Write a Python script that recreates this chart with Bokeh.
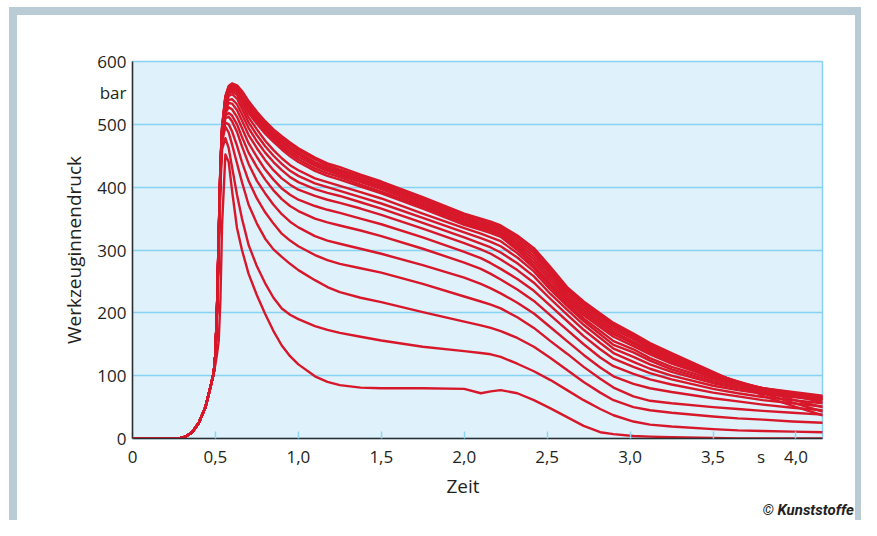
from bokeh.plotting import figure
from bokeh.models import Range1d, FixedTicker, Title
from bokeh.embed import file_html
from bokeh.resources import INLINE

# ---------------- data ----------------
X_END = 4.16
Y_END = 600
X_TICKS = [0, 0.5, 1.0, 1.5, 2.0, 2.5, 3.0, 3.5, 4.0]
X_TICK_LABELS = ["0", "0,5", "1,0", "1,5", "2,0", "2,5", "3,0", "3,5", "4,0"]
X_UNIT_POS = 3.79
X_UNIT = "s"
Y_TICKS = [0, 100, 200, 300, 400, 500, 600]
Y_TICK_LABELS = ["0", "100", "200", "300", "400", "500", "600"]
Y_UNIT_POS = 551
Y_UNIT = "bar"
X_TITLE = "Zeit"
Y_TITLE = "Werkzeuginnendruck"
CREDIT = "\u00a9  Kunststoffe"

# common filling phase (s, bar)
T_RISE = [0.0, 0.28, 0.32, 0.36, 0.40, 0.44, 0.47, 0.49]
P_RISE = [0, 0, 3, 10, 25, 50, 82, 105]

# time base for the individual curves (s)
T_MAIN = [0.50, 0.51, 0.52, 0.53, 0.54, 0.56, 0.58, 0.60, 0.63, 0.66, 0.70, 0.75,
          0.80, 0.85, 0.90, 0.95, 1.00, 1.10, 1.175, 1.25, 1.375, 1.50, 1.75, 2.00,
          2.10, 2.16, 2.22, 2.32, 2.42, 2.52, 2.62, 2.72, 2.82, 2.90, 3.02, 3.12,
          3.25, 3.50, 3.65, 3.80, 3.98, 4.16]

# cavity pressure curves (bar)
C01 = [118, 135, 156, 220, 340, 452, 440, 395, 335, 300, 262, 228, 198, 171, 148, 131, 118, 99, 90, 85, 81, 80, 80, 79, 72, 75, 77, 72, 61, 48, 34, 20, 10, 7, 4, 3, 2, 1, 0, 0, 0, 0]
C02 = [135, 200, 300, 400, 460, 478, 462, 432, 388, 350, 308, 274, 247, 224, 207, 197, 190, 179, 173, 168, 162, 156, 146, 139, 136, 134, 130, 119, 107, 93, 77, 61, 47, 37, 27, 22, 19, 15, 13, 12, 11, 10]
C03 = [135, 205, 310, 415, 472, 496, 487, 468, 438, 408, 372, 342, 318, 301, 289, 278, 268, 252, 241, 233, 224, 217, 201, 186, 180, 176, 171, 160, 146, 128, 109, 90, 73, 61, 50, 45, 41, 35, 32, 30, 27, 25]
C04 = [135, 205, 312, 418, 476, 503, 500, 489, 466, 440, 410, 382, 360, 342, 326, 315, 306, 292, 284, 278, 271, 264, 246, 226, 218, 213, 207, 193, 176, 155, 135, 114, 95, 81, 67, 60, 56, 50, 47, 44, 41, 38]
C05 = [135, 208, 315, 420, 478, 510, 512, 505, 488, 465, 437, 410, 390, 372, 357, 345, 336, 322, 315, 310, 302, 294, 276, 256, 246, 239, 231, 216, 199, 177, 155, 133, 113, 99, 87, 80, 74, 64, 59, 54, 49, 45]
C06 = [135, 208, 316, 422, 480, 514, 518, 514, 500, 480, 455, 432, 412, 395, 381, 370, 362, 350, 344, 339, 331, 322, 302, 280, 270, 262, 253, 237, 219, 196, 173, 150, 129, 115, 103, 94, 86, 73, 67, 61, 56, 51]
C07 = [135, 210, 318, 424, 482, 518, 527, 524, 512, 494, 470, 448, 428, 412, 398, 388, 380, 370, 364, 359, 350, 341, 320, 297, 287, 279, 270, 254, 235, 211, 187, 163, 142, 127, 114, 104, 94, 79, 72, 66, 61, 56]
C08 = [135, 210, 318, 425, 484, 522, 534, 533, 523, 506, 483, 462, 443, 427, 414, 404, 396, 386, 380, 375, 366, 356, 334, 311, 301, 294, 285, 268, 248, 222, 197, 173, 152, 136, 122, 111, 100, 84, 77, 71, 66, 61]
C09 = [135, 210, 320, 426, 486, 526, 539, 540, 532, 516, 494, 473, 455, 440, 427, 416, 408, 397, 391, 386, 376, 366, 343, 320, 310, 304, 296, 279, 258, 230, 205, 181, 160, 143, 130, 118, 106, 88, 80, 74, 68, 63]
C10 = [135, 210, 320, 428, 488, 530, 545, 548, 541, 525, 503, 483, 465, 450, 437, 426, 418, 406, 400, 394, 384, 374, 351, 328, 319, 313, 306, 288, 266, 237, 211, 187, 166, 149, 137, 124, 110, 91, 83, 77, 71, 65]
C11 = [135, 212, 322, 430, 490, 534, 549, 552, 547, 532, 511, 492, 474, 459, 446, 435, 427, 414, 408, 402, 392, 382, 358, 335, 326, 320, 314, 295, 271, 242, 215, 191, 171, 155, 142, 128, 114, 94, 86, 79, 73, 67]
C12 = [135, 212, 322, 430, 490, 536, 551, 555, 551, 538, 518, 501, 485, 472, 460, 449, 440, 426, 418, 412, 401, 390, 366, 340, 332, 327, 321, 300, 275, 246, 219, 196, 177, 162, 147, 134, 119, 97, 88, 80, 74, 68]
C13 = [135, 212, 324, 432, 492, 538, 553, 557, 554, 541, 522, 505, 489, 476, 464, 453, 444, 430, 422, 416, 404, 393, 369, 343, 335, 330, 324, 304, 280, 251, 223, 200, 181, 166, 151, 137, 122, 99, 89, 80, 73, 66]
C14 = [135, 212, 324, 432, 492, 540, 555, 559, 556, 544, 525, 508, 492, 479, 467, 457, 448, 434, 426, 419, 408, 397, 372, 346, 338, 333, 327, 308, 285, 256, 227, 204, 185, 170, 154, 140, 125, 101, 90, 80, 71, 63]
C15 = [135, 214, 326, 434, 494, 542, 557, 561, 558, 547, 528, 511, 495, 482, 471, 461, 452, 437, 429, 422, 411, 400, 375, 349, 341, 336, 330, 312, 290, 261, 231, 208, 189, 174, 158, 143, 128, 103, 91, 79, 68, 58]
C16 = [135, 214, 326, 434, 494, 543, 559, 563, 560, 549, 531, 514, 498, 485, 474, 464, 455, 440, 432, 425, 414, 403, 378, 352, 344, 339, 333, 316, 295, 265, 235, 212, 193, 178, 161, 146, 131, 104, 90, 76, 62, 50]
C17 = [135, 214, 328, 436, 496, 544, 560, 564, 561, 551, 534, 517, 501, 488, 477, 468, 459, 444, 435, 428, 417, 406, 381, 355, 347, 342, 336, 320, 299, 269, 238, 215, 196, 181, 164, 149, 133, 105, 89, 72, 57, 43]
C18 = [135, 215, 328, 436, 496, 545, 561, 565, 562, 553, 537, 520, 505, 492, 481, 471, 462, 447, 438, 432, 420, 409, 384, 358, 350, 345, 339, 323, 303, 273, 241, 218, 199, 184, 167, 152, 136, 106, 88, 68, 52, 37]
CURVES = [C01, C02, C03, C04, C05, C06, C07, C08, C09, C10, C11, C12, C13, C14, C15, C16, C17, C18]

# ---------------- styles ----------------
RED = "#d7182a"
PLOT_BG = "#dff1fb"
GRID_COL = "#86d3f3"
TICK_COL = "#8fd6f5"
AXIS_COL = "#2e2e2e"
FRAME_COL = "#b9cbd5"
TEXT_COL = "#231f20"
FONT = "Open Sans"

frame_css = ("inset 9px 7px 0 0 #ffffff, inset 17px 15px 0 0 %s, inset -6px 0 0 0 %s"
             % (FRAME_COL, FRAME_COL))

p = figure(width=861, height=520,
           x_range=Range1d(0, X_END), y_range=Range1d(0, Y_END),
           output_backend="svg", toolbar_location=None,
           min_border_left=132, min_border_right=39,
           min_border_top=61, min_border_bottom=82,
           background_fill_color=PLOT_BG, border_fill_color=None,
           outline_line_color=GRID_COL, outline_line_width=1.5,
           styles={"box-shadow": frame_css, "background-color": "white"})

# grid
p.xgrid.grid_line_color = None
p.ygrid.ticker = FixedTicker(ticks=Y_TICKS)
p.ygrid.grid_line_color = GRID_COL
p.ygrid.grid_line_width = 1.5

# x axis: labels (incl. unit) as major ticks, tick marks drawn as minor ticks
x_labels = dict(zip(X_TICKS, X_TICK_LABELS))
x_labels[X_UNIT_POS] = X_UNIT
p.xaxis.ticker = FixedTicker(ticks=sorted(X_TICKS + [X_UNIT_POS]), minor_ticks=X_TICKS)
p.xaxis.major_label_overrides = x_labels
p.xaxis.major_tick_in = 0
p.xaxis.major_tick_out = 0
p.xaxis.minor_tick_in = 7
p.xaxis.minor_tick_out = 0
p.xaxis.minor_tick_line_color = TICK_COL
p.xaxis.minor_tick_line_width = 1.5
p.xaxis.axis_line_color = AXIS_COL
p.xaxis.axis_line_width = 1.5
p.xaxis.major_label_standoff = 6
p.xaxis.major_label_text_font = FONT
p.xaxis.major_label_text_font_size = "17px"
p.xaxis.major_label_text_color = TEXT_COL

# y axis: unit shown as an extra tick label
y_labels = dict(zip(Y_TICKS, Y_TICK_LABELS))
y_labels[Y_UNIT_POS] = Y_UNIT
p.yaxis.ticker = FixedTicker(ticks=Y_TICKS + [Y_UNIT_POS])
p.yaxis.major_label_overrides = y_labels
p.yaxis.major_tick_in = 0
p.yaxis.major_tick_out = 0
p.yaxis.minor_tick_line_color = None
p.yaxis.axis_line_color = AXIS_COL
p.yaxis.axis_line_width = 1.5
p.yaxis.major_label_standoff = 6
p.yaxis.major_label_text_font = FONT
p.yaxis.major_label_text_font_size = "17px"
p.yaxis.major_label_text_color = TEXT_COL
p.yaxis.axis_label = Y_TITLE
p.yaxis.axis_label_text_font = FONT
p.yaxis.axis_label_text_font_style = "normal"
p.yaxis.axis_label_text_font_size = "19px"
p.yaxis.axis_label_text_color = TEXT_COL
p.yaxis.axis_label_standoff = 7

# curves
for c in CURVES:
    p.line(T_RISE + T_MAIN, P_RISE + c, line_color=RED, line_width=2.4,
           line_join="round", line_cap="round")

# x title and credit below the axis
p.add_layout(Title(text=X_TITLE, align="left", offset=314, standoff=0,
                   text_font=FONT, text_font_style="normal", text_font_size="19px",
                   text_color=TEXT_COL), "below")
p.add_layout(Title(text=CREDIT, align="right", offset=-35, standoff=0,
                   text_font="Roboto", text_font_style="bold italic", text_font_size="15px",
                   text_color=TEXT_COL), "below")

open("out.html", "w").write(file_html(p, INLINE))
